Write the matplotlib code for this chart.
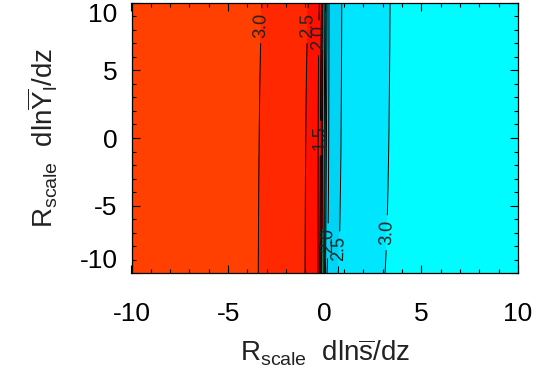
import numpy as np
import matplotlib
matplotlib.use('Agg')
import matplotlib.pyplot as plt

plt.rcParams['font.family'] = ['Liberation Sans', 'DejaVu Sans']
plt.rcParams['mathtext.fontset'] = 'custom'
plt.rcParams['mathtext.rm'] = 'Liberation Sans'
plt.rcParams['mathtext.it'] = 'Liberation Sans'
plt.rcParams['axes.unicode_minus'] = False

# signed field: x where each level crosses, at y=-10 and y=10
levels_row = [-3.45, -3.0, -2.5, -2.0, -1.5, 0.0, 1.5, 2.0, 2.5, 3.0, 3.45]
x_bottom = [-10, -3.44, -1.02, -0.35, -0.25, -0.1, 0.04, 0.12, 0.70, 3.12, 10]
x_top = [-10, -3.25, -0.85, -0.28, -0.17, -0.05, 0.12, 0.22, 0.88, 3.38, 10]
y_rows = [-10, 10]

fill_levels = [-4, -3.0, -2.5, -1.5, 0.0, 1.2, 2.5, 3.0, 4]
fill_colors = ['#ff4000', '#ff2800', '#ff1000', '#e00000',
               '#20c8a0', '#00d4f4', '#00e6ff', '#00fcff']
line_levels = [0.5, 1.0, 1.5, 2.0, 2.5, 3.0]

# build grid from the two read rows
x = np.linspace(-10, 10, 2001)
y = np.linspace(-10, 10, 201)
row_b = np.interp(x, x_bottom, levels_row)
row_t = np.interp(x, x_top, levels_row)
t = (y[:, None] - y_rows[0]) / (y_rows[1] - y_rows[0])
S = row_b[None, :] * (1 - t) + row_t[None, :] * t
X, Y = np.meshgrid(x, y)

fig = plt.figure(figsize=(5.53, 3.72), dpi=100)
ax = fig.add_axes([131.5 / 553, 1 - 273.3 / 372, 386.5 / 553, 270.6 / 372])

ax.contourf(X, Y, S, levels=fill_levels, colors=fill_colors)
cs = ax.contour(X, Y, np.abs(S), levels=line_levels, colors='black', linewidths=0.7)
ax.clabel(cs, fmt='%.1f', fontsize=13, inline=True, colors='#222222',
          manual=[(-3.3, 8.3), (-0.9, 8.3), (-0.3, 7.4),
                  (0.15, -7.6), (0.8, -8.2), (3.2, -7.0), (-0.2, 0.0)])

ax.set_xlim(-10, 10)
ax.set_ylim(-10, 10)
ax.set_xticks([-10, -5, 0, 5, 10])
ax.set_yticks([-10, -5, 0, 5, 10])
ax.set_xticks(np.arange(-10, 11, 1), minor=True)
ax.set_yticks(np.arange(-10, 11, 1), minor=True)
ax.tick_params(which='both', direction='in', top=True, right=True, labelsize=19, width=0.8)
ax.tick_params(which='major', length=6)
ax.tick_params(which='minor', length=3)
ax.tick_params(axis='x', pad=21)
ax.tick_params(axis='y', pad=10)
for s in ax.spines.values():
    s.set_linewidth(0.9)

ylabs = ax.get_yticklabels()
ylabs[0].set_va('bottom')
ylabs[-1].set_va('top')

ax.set_xlabel(r'R$_{\mathrm{scale}}$  dln$\overline{\mathrm{s}}$/dz', fontsize=20,
              color='#222222', labelpad=8)
ax.set_ylabel(r'R$_{\mathrm{scale}}$  dln$\overline{\mathrm{Y}}_{\mathrm{l}}$/dz', fontsize=20,
              color='#222222', labelpad=14)

fig.savefig('out.png', dpi=100)
